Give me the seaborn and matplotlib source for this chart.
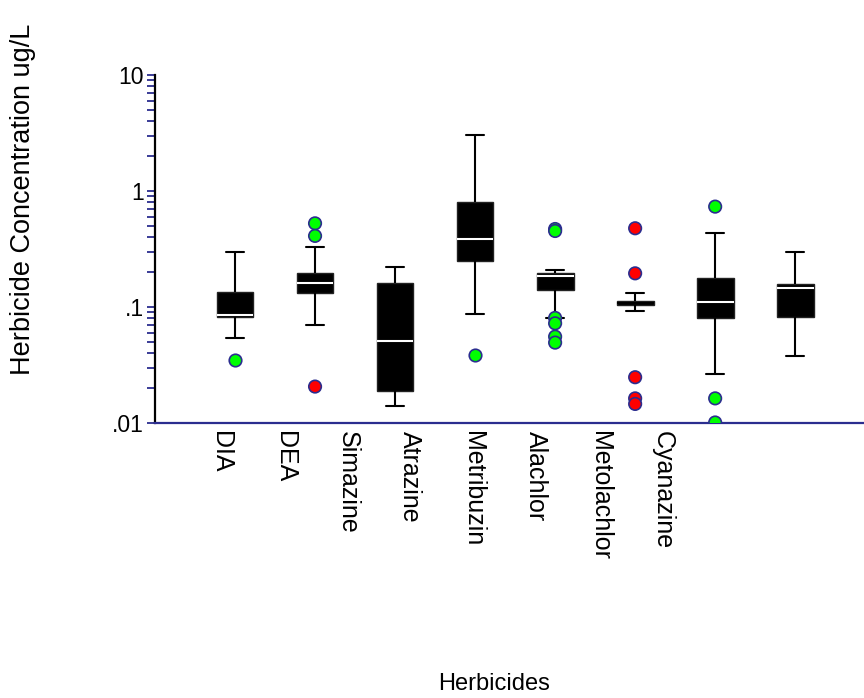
import numpy as np
import pandas as pd
import matplotlib
matplotlib.use("Agg")
import matplotlib.pyplot as plt
from matplotlib.ticker import FixedLocator, FixedFormatter, LogLocator, NullFormatter
import seaborn as sns

# Herbicide concentration summaries (ug/L): whisker ends, quartiles and medians
herbicides = ["DIA", "DEA", "Simazine", "Atrazine", "Metribuzin",
              "Alachlor", "Metolachlor", "Cyanazine"]
whisker_low = [0.0544, 0.070, 0.0141, 0.0865, 0.081, 0.0924, 0.0263, 0.038]
quartile_1 = [0.0826, 0.133, 0.019, 0.249, 0.140, 0.104, 0.0798, 0.0826]
median = [0.085, 0.160, 0.0513, 0.384, 0.185, 0.108, 0.110, 0.145]
quartile_3 = [0.135, 0.198, 0.160, 0.809, 0.195, 0.112, 0.177, 0.158]
whisker_high = [0.300, 0.331, 0.223, 3.04, 0.209, 0.131, 0.437, 0.300]

# Individual outlying samples
outlier_herbicide = ["DIA", "DEA", "DEA", "DEA", "Atrazine",
                     "Metribuzin", "Metribuzin", "Metribuzin", "Metribuzin",
                     "Metribuzin", "Metribuzin",
                     "Alachlor", "Alachlor", "Alachlor", "Alachlor", "Alachlor",
                     "Metolachlor", "Metolachlor", "Metolachlor"]
outlier_value = [0.0349, 0.526, 0.41, 0.0206, 0.0386,
                 0.47, 0.452, 0.0805, 0.0723, 0.0555, 0.0493,
                 0.477, 0.195, 0.0248, 0.0163, 0.0146,
                 0.733, 0.0163, 0.0101]
outlier_group = ["green", "green", "green", "red", "green",
                 "green", "green", "green", "green", "green", "green",
                 "red", "red", "red", "red", "red",
                 "green", "green", "green"]

y_tick_values = [0.01, 0.1, 1, 10]
y_tick_labels = [".01", ".1", "1", "10"]
x_label_positions = [-0.17, 0.62, 1.41, 2.19, 2.98, 3.76, 4.56, 5.34]

NAVY = "#2b2d8f"

sns.set_theme(style="ticks")
plt.rcParams["font.family"] = ["Liberation Sans", "DejaVu Sans"]
plt.rcParams["text.color"] = "black"

# Five summary values per herbicide; with whis=(0, 100) the boxplot reproduces them exactly
summary = pd.DataFrame({
    "herbicide": np.repeat(herbicides, 5),
    "conc": np.column_stack([whisker_low, quartile_1, median,
                             quartile_3, whisker_high]).ravel(),
})
outliers = pd.DataFrame({"herbicide": outlier_herbicide,
                         "conc": outlier_value,
                         "group": outlier_group})

fig = plt.figure(figsize=(8.64, 6.98), dpi=100)
ax = fig.add_axes([0.1794, 0.394, 0.8206, 0.4986])

sns.boxplot(data=summary, x="herbicide", y="conc", order=herbicides,
            log_scale=True, whis=(0, 100), width=0.46, showfliers=False,
            color="black", linecolor="black", linewidth=1.5, saturation=1,
            boxprops=dict(facecolor="black", edgecolor="#222222", linewidth=1.0),
            medianprops=dict(color="white", linewidth=1.5),
            ax=ax)

# A box only a few pixels tall reads as a solid bar, so its median stays dark
for line in ax.lines:
    xs = np.asarray(line.get_xdata(), dtype=float)
    if line.get_color() == "white" and xs.size and abs(xs.mean() - herbicides.index("Alachlor")) < 0.3:
        line.set_color("black")

sns.stripplot(data=outliers, x="herbicide", y="conc", order=herbicides,
              hue="group", palette={"green": "#00ff00", "red": "#ff0000"},
              jitter=False, size=9, edgecolor=NAVY, linewidth=1.2,
              legend=False, zorder=5, ax=ax)

ax.set_yscale("log")
ax.set_ylim(0.01, 10)
ax.yaxis.set_major_locator(FixedLocator(y_tick_values))
ax.yaxis.set_major_formatter(FixedFormatter(y_tick_labels))
ax.yaxis.set_minor_locator(LogLocator(base=10, subs=np.arange(2, 10)))
ax.yaxis.set_minor_formatter(NullFormatter())
ax.tick_params(axis="y", which="both", direction="out", length=6,
               width=1.3, color=NAVY, labelsize=16.5, pad=2, labelcolor="black")

ax.set_xlim(-1.0, 7.86)
ax.set_xticks(x_label_positions, labels=herbicides)
ax.tick_params(axis="x", length=0, labelsize=18, pad=6, labelrotation=270,
               labelcolor="black")
for lab in ax.get_xticklabels():
    lab.set_verticalalignment("top")
    lab.set_horizontalalignment("center")

ax.set_xlabel("")
ax.set_ylabel("")
sns.despine(ax=ax)
ax.spines["left"].set_color("black")
ax.spines["left"].set_linewidth(1.6)
ax.spines["bottom"].set_color(NAVY)
ax.spines["bottom"].set_linewidth(1.6)
ax.set_facecolor("white")

fig.text(23 / 864, 1 - 199 / 698, "Herbicide Concentration ug/L",
         rotation=90, ha="center", va="center", fontsize=19.5, color="black")
fig.text(494 / 864, 1 - 684 / 698, "Herbicides",
         ha="center", va="center", fontsize=17, color="black")

fig.savefig("out.png", dpi=100, facecolor="white")
